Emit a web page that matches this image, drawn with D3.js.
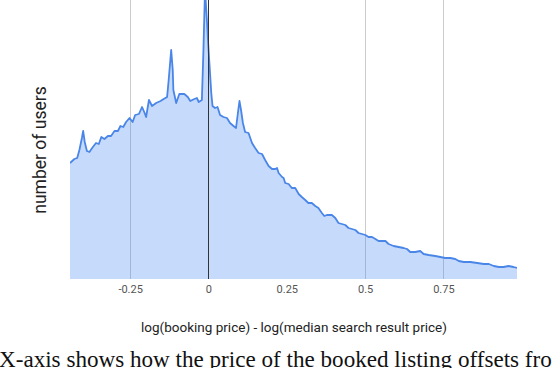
<!DOCTYPE html>
<html>
<head>
<meta charset="utf-8">
<script src="https://cdn.jsdelivr.net/npm/d3@7"></script>
<style>
  body { margin: 0; background: #fff; }
  svg { display: block; }
</style>
</head>
<body>
<div id="vis"></div>
<script>
// price offset histogram (log booking price - log median search price)
const FRAME_WIDTH = 552;
const FRAME_HEIGHT = 368;
const PLOT = {left: 70, right: 517, top: 0, bottom: 279};

// x = offset, users = number of users (arbitrary units)
const offsets = [
  -0.442, -0.428, -0.419, -0.412, -0.404, -0.400, -0.395, -0.388, -0.380, -0.369,
  -0.359, -0.350, -0.342, -0.332, -0.321, -0.311, -0.300, -0.289, -0.281, -0.272,
  -0.263, -0.252, -0.242, -0.234, -0.222, -0.212, -0.205, -0.199, -0.190, -0.180,
  -0.167, -0.153, -0.143, -0.132, -0.127, -0.119, -0.114, -0.112, -0.103, -0.093,
  -0.077, -0.066, -0.058, -0.045, -0.037, -0.031, -0.021, -0.016, -0.011, -0.005,
  -0.001, 0.005, 0.009, 0.013, 0.021, 0.029, 0.037, 0.048, 0.059, 0.069,
  0.080, 0.088, 0.094, 0.099, 0.104, 0.110, 0.117, 0.128, 0.139, 0.149,
  0.160, 0.171, 0.181, 0.192, 0.203, 0.213, 0.219, 0.224, 0.235, 0.240,
  0.245, 0.256, 0.266, 0.277, 0.288, 0.298, 0.309, 0.319, 0.330, 0.341,
  0.351, 0.362, 0.370, 0.378, 0.394, 0.405, 0.415, 0.426, 0.437, 0.447,
  0.458, 0.469, 0.479, 0.490, 0.501, 0.511, 0.522, 0.533, 0.543, 0.554,
  0.565, 0.575, 0.591, 0.607, 0.623, 0.634, 0.644, 0.660, 0.676, 0.687,
  0.703, 0.724, 0.740, 0.756, 0.772, 0.788, 0.799, 0.815, 0.836, 0.858,
  0.879, 0.895, 0.911, 0.927, 0.942, 0.958, 0.974, 0.985
];
const users = [
  116, 120, 121, 129, 141, 148, 137, 128, 127, 132,
  136, 135, 142, 140, 143, 143, 148, 148, 153, 152,
  157, 161, 157, 164, 165, 172, 167, 162, 179, 173,
  176, 178, 180, 182, 199, 229, 209, 189, 176, 185,
  185, 182, 178, 180, 181, 177, 179, 229, 290, 259,
  236, 206, 186, 173, 171, 172, 164, 162, 161, 156,
  153, 151, 166, 178, 169, 156, 147, 146, 136, 131,
  126, 125, 119, 113, 110, 110, 111, 106, 102, 101,
  96, 95, 91, 91, 85, 82, 79, 76, 76, 73,
  71, 66, 63, 64, 64, 61, 56, 55, 54, 51,
  50, 49, 46, 45, 44, 42, 42, 40, 38, 38,
  38, 35, 33, 32, 31, 30, 27, 27, 28, 25,
  24, 23, 22, 21, 21, 20, 18, 17, 17, 16,
  15, 15, 13, 12, 12, 13, 12, 11
];

const tickValues = [-0.25, 0, 0.25, 0.5, 0.75];
const tickLabels = ["-0.25", "0", "0.25", "0.5", "0.75"];
// there is no gridline at 0.25 in the original, so keep a separate list
const gridValues = [-0.25, 0.5, 0.75];

const X_TITLE = "log(booking price) - log(median search result price)";
const Y_TITLE = "number of users";
// the caption is cut at the right edge in the original, "fro" ends at the border
const CAPTION = "X-axis shows how the price of the booked listing offsets from";
const CAPTION_VISIBLE = "X-axis shows how the price of the booked listing offsets fro";

const data = offsets.map((d, i) => ({x: d, y: users[i]}));

const svg = d3.select("#vis")
              .append("svg")
              .attr("width", FRAME_WIDTH)
              .attr("height", FRAME_HEIGHT);

const X_SCALE = d3.scaleLinear()
                  .domain([-0.442, 0.985])
                  .range([PLOT.left, PLOT.right]);

const Y_SCALE = d3.scaleLinear()
                  .domain([0, 279])
                  .range([PLOT.bottom, PLOT.top]);

svg.append("clipPath")
    .attr("id", "plotclip")
  .append("rect")
    .attr("x", PLOT.left)
    .attr("y", PLOT.top)
    .attr("width", PLOT.right - PLOT.left)
    .attr("height", PLOT.bottom - PLOT.top);

// gridlines
svg.selectAll(".grid")
    .data(gridValues)
    .enter()
    .append("line")
      .attr("x1", d => Math.round(X_SCALE(d)) + 0.5)
      .attr("x2", d => Math.round(X_SCALE(d)) + 0.5)
      .attr("y1", PLOT.top)
      .attr("y2", PLOT.bottom)
      .attr("stroke", "#cccccc")
      .attr("stroke-width", 1);

const plot = svg.append("g").attr("clip-path", "url(#plotclip)");

const area = d3.area()
               .x(d => X_SCALE(d.x))
               .y0(Y_SCALE(0))
               .y1(d => Y_SCALE(d.y));

const line = d3.line()
               .x(d => X_SCALE(d.x))
               .y(d => Y_SCALE(d.y));

plot.append("path")
    .datum(data)
    .attr("d", area)
    .attr("fill", "#4285f4")
    .attr("fill-opacity", 0.3);

plot.append("path")
    .datum(data)
    .attr("d", line)
    .attr("fill", "none")
    .attr("stroke", "#4a86e8")
    .attr("stroke-width", 1.8)
    .attr("stroke-linejoin", "round");

// dark baseline at zero, on top of the area
svg.append("line")
    .attr("x1", Math.round(X_SCALE(0)) + 0.5)
    .attr("x2", Math.round(X_SCALE(0)) + 0.5)
    .attr("y1", PLOT.top)
    .attr("y2", PLOT.bottom)
    .attr("stroke", "#333333")
    .attr("stroke-width", 1);

// x axis labels, no domain line or tick marks
const xAxis = d3.axisBottom(X_SCALE)
                .tickValues(tickValues)
                .tickFormat((d, i) => tickLabels[i])
                .tickSize(0)
                .tickPadding(0);

const gx = svg.append("g")
              .attr("transform", "translate(0," + (PLOT.bottom + 6) + ")")
              .call(xAxis);
gx.select(".domain").remove();
gx.selectAll("text")
    .attr("font-family", "Roboto, sans-serif")
    .attr("font-size", "11px")
    .attr("fill", "#555555");

svg.append("text")
    .attr("x", 294)
    .attr("y", 332)
    .attr("text-anchor", "middle")
    .attr("font-family", "Roboto, sans-serif")
    .attr("font-size", "13.5px")
    .attr("fill", "#222222")
    .text(X_TITLE);

svg.append("text")
    .attr("transform", "translate(46,150) rotate(-90)")
    .attr("text-anchor", "middle")
    .attr("font-family", "Roboto, sans-serif")
    .attr("font-size", "17.5px")
    .attr("fill", "#222222")
    .text(Y_TITLE);

// caption from the paper, sized so the visible part fills the width
const caption = svg.append("text")
    .attr("x", -1)
    .attr("y", 367)
    .attr("font-family", "'Liberation Serif', serif")
    .attr("font-size", "21px")
    .attr("fill", "#111111")
    .text(CAPTION_VISIBLE);
const visW = caption.node().getComputedTextLength();
caption.attr("font-size", (21 * 553 / visW) + "px")
       .text(CAPTION);
</script>
</body>
</html>
